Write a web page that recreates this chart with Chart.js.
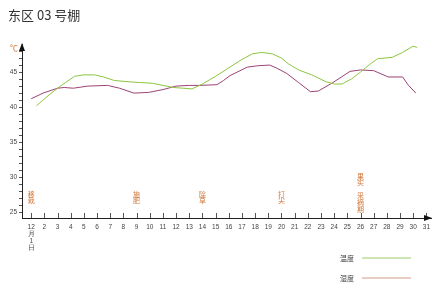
<!DOCTYPE html>
<html lang="zh">
<head>
<meta charset="utf-8">
<title>东区 03 号棚</title>
<script src="https://cdn.jsdelivr.net/npm/chart.js"></script>
<style>
  html, body { margin: 0; padding: 0; background: #fff; }
  #wrap { position: relative; width: 437px; height: 290px; }
  #title { position: absolute; left: 8px; top: 5px; font: 13px "Noto Sans CJK SC", sans-serif; color: #333; }
  #unit { position: absolute; left: 10px; top: 42px; font: 8px "Noto Sans CJK SC", sans-serif; color: #d2783c; }
</style>
</head>
<body>
<div id="wrap">
  <div id="title">东区 03 号棚</div>
  <div id="unit">℃</div>
  <canvas id="myChart" width="437" height="290"></canvas>
</div>
<script>
// 温度 (绿线)
const tempDays = [1.4, 2.2, 3.0, 3.6, 4.3, 5.0, 5.8, 6.5, 7.3, 8.5, 9.3, 10.2, 11.0, 11.8, 12.5, 13.2, 14.0, 15.0, 16.0, 17.0, 17.8, 18.5, 19.3, 20.0, 20.5, 21.3, 22.3, 23.4, 24.0, 24.6, 25.3, 26.0, 26.7, 27.3, 28.4, 29.2, 30.0, 30.3];
const tempValues = [40.2, 41.5, 42.7, 43.5, 44.4, 44.6, 44.6, 44.3, 43.8, 43.6, 43.5, 43.4, 43.1, 42.8, 42.7, 42.6, 43.3, 44.4, 45.6, 46.8, 47.6, 47.8, 47.6, 47.0, 46.2, 45.3, 44.6, 43.6, 43.3, 43.3, 44.0, 45.0, 46.1, 46.9, 47.1, 47.8, 48.7, 48.5];
// 湿度 (紫线)
const humDays = [1.0, 1.9, 3.0, 3.5, 4.2, 5.3, 6.8, 7.7, 8.8, 9.9, 11.0, 12.0, 13.0, 13.8, 15.1, 15.6, 16.1, 17.4, 18.2, 19.1, 19.6, 20.4, 21.3, 22.2, 22.8, 23.9, 25.2, 26.0, 27.0, 28.1, 29.2, 29.6, 30.2];
const humValues = [41.2, 42.0, 42.7, 42.8, 42.7, 43.0, 43.1, 42.7, 42.0, 42.1, 42.5, 43.0, 43.1, 43.1, 43.2, 43.8, 44.5, 45.7, 45.9, 46.0, 45.6, 44.8, 43.5, 42.2, 42.3, 43.5, 45.1, 45.3, 45.2, 44.3, 44.3, 43.2, 42.0];

const dayTicks = Array.from({length: 31}, (_, i) => i + 1);
const yTicks = Array.from({length: 24}, (_, i) => i + 25);
const yLabels = [25, 30, 35, 40, 45];

// 农事记录
const eventDays = [1, 9, 14, 20, 26];
const eventTexts = ['移栽', '施肥', '除草', '打尖', '果实 采摘期'];

const seriesNames = ['温度', '湿度'];

const toPoints = (xs, ys) => xs.map((x, i) => ({x: x, y: ys[i]}));

const extras = {
  id: 'extras',
  afterDraw(chart) {
    const ctx = chart.ctx;
    const xs = chart.scales.x, ys = chart.scales.y;
    const left = chart.chartArea.left, bottom = chart.chartArea.bottom;
    ctx.save();
    // x 轴刻度线 (朝上)
    ctx.strokeStyle = '#555';
    ctx.lineWidth = 1;
    dayTicks.forEach(d => {
      const px = Math.round(xs.getPixelForValue(d)) + 0.5;
      ctx.beginPath(); ctx.moveTo(px, bottom); ctx.lineTo(px, bottom - 5); ctx.stroke();
    });
    // 箭头
    ctx.fillStyle = '#111';
    ctx.beginPath();
    ctx.moveTo(left, ys.top - 1); ctx.lineTo(left - 3, ys.top + 7); ctx.lineTo(left + 3, ys.top + 7);
    ctx.fill();
    ctx.beginPath();
    ctx.moveTo(xs.right + 1, bottom); ctx.lineTo(xs.right - 7, bottom - 3); ctx.lineTo(xs.right - 7, bottom + 3);
    ctx.fill();
    // 农事文字 (竖排)
    ctx.fillStyle = '#d2783c';
    ctx.font = '7px "Noto Sans CJK SC"';
    ctx.textAlign = 'center';
    ctx.textBaseline = 'middle';
    eventDays.forEach((d, i) => {
      const chars = eventTexts[i].split('');
      const px = xs.getPixelForValue(d);
      const y0 = chars.length > 2 ? 176 : 194;
      chars.forEach((c, j) => ctx.fillText(c, px, y0 + j * 6.6));
    });
    // 图例
    const colors = ['#bcdc98', '#e2bcae'];
    ctx.font = '7px "Noto Sans CJK SC"';
    ctx.textAlign = 'right';
    seriesNames.forEach((n, i) => {
      const ly = 258 + i * 20;
      ctx.fillStyle = '#444';
      ctx.fillText(n, 354, ly);
      ctx.strokeStyle = colors[i];
      ctx.lineWidth = 1.5;
      ctx.beginPath(); ctx.moveTo(362, ly); ctx.lineTo(411, ly); ctx.stroke();
    });
    ctx.restore();
  }
};

new Chart(document.getElementById('myChart'), {
  type: 'line',
  data: {
    datasets: [{
      label: seriesNames[0],
      data: toPoints(tempDays, tempValues),
      borderColor: '#8cc63e',
      borderWidth: 1,
      pointRadius: 0,
      tension: 0
    }, {
      label: seriesNames[1],
      data: toPoints(humDays, humValues),
      borderColor: '#9c4274',
      borderWidth: 1,
      pointRadius: 0,
      tension: 0
    }]
  },
  options: {
    responsive: false,
    animation: false,
    clip: false,
    layout: { padding: { top: 44, right: 6, left: 0, bottom: 0 } },
    plugins: { legend: { display: false }, tooltip: { enabled: false } },
    scales: {
      x: {
        type: 'linear',
        min: 0.3,
        max: 31.35,
        afterBuildTicks: s => { s.ticks = dayTicks.map(v => ({value: v})); },
        afterFit: s => { s.height = 72; },
        grid: { drawOnChartArea: false, drawTicks: false },
        border: { color: '#222', width: 1 },
        ticks: {
          color: '#444',
          font: { size: 6.5, lineHeight: 1.05 },
          padding: 6,
          maxRotation: 0,
          autoSkip: false,
          callback: v => v === 1 ? ['12', '月', '1', '日'] : String(v)
        }
      },
      y: {
        min: 24.2,
        max: 49,
        afterBuildTicks: s => { s.ticks = yTicks.map(v => ({value: v})); },
        afterFit: s => { s.width = 22; },
        grid: { drawOnChartArea: false, drawTicks: true, tickLength: 3, color: '#555' },
        border: { color: '#222', width: 1 },
        ticks: {
          color: '#444',
          font: { size: 6.5 },
          padding: 2,
          autoSkip: false,
          callback: v => yLabels.includes(v) ? String(v) : ''
        }
      }
    }
  },
  plugins: [extras]
});
</script>
</body>
</html>
